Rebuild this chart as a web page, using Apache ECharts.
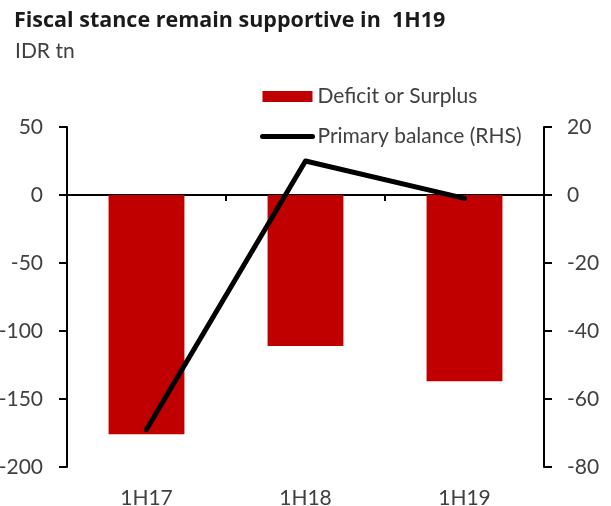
<!DOCTYPE html>
<html><head><meta charset="utf-8">
<script src="https://cdn.jsdelivr.net/npm/echarts@6/dist/echarts.min.js"></script>
<style>html,body{margin:0;padding:0;background:#fff}#c{width:611px;height:506px}</style>
</head><body><div id="c"></div>
<script>
const categories = ['1H17', '1H18', '1H19'];
const deficitSurplus = [-176, -111, -137];
const primaryBalance = [-69, 10, -1];
const leftTickLabels = [-200, -150, -100, -50, 0, 50];
const rightTickLabels = [-80, -60, -40, -20, 0, 20];

const FONT = 'Lato';
const TXT = '#404040';
const chart = echarts.init(document.getElementById('c'), null, {renderer: 'canvas'});
const axisStyle = {color: '#000', width: 2};
chart.setOption({
  animation: false,
  backgroundColor: '#fff',
  title: [
    {text: 'Fiscal stance remain supportive in  1H19', left: 9, top: 5,
     textStyle: {fontFamily: 'Open Sans', fontWeight: 'bold', fontSize: 21.5, color: '#1a1a1a'}},
    {text: 'IDR tn', left: 10, top: 36,
     textStyle: {fontFamily: FONT, fontWeight: 'normal', fontSize: 21, color: TXT}}
  ],
  legend: {
    orient: 'vertical', left: 255, top: 81, itemWidth: 50, itemHeight: 11, itemGap: 19,
    textStyle: {fontFamily: FONT, fontSize: 21, color: TXT},
    data: [
      {name: 'Deficit or Surplus', icon: 'rect'},
      {name: 'Primary balance (RHS)', itemStyle: {opacity: 0}, lineStyle: {width: 5, cap: 'round', color: '#000'}}
    ]
  },
  grid: {left: 67, right: 67, top: 127, bottom: 39, containLabel: false, outerBoundsMode: 'none'},
  xAxis: [
    {type: 'category', data: categories, position: 'bottom',
     axisLine: {show: false, onZero: false}, axisTick: {show: false},
     axisLabel: {fontFamily: FONT, fontSize: 21, color: TXT, margin: 21}},
    {type: 'category', data: categories, position: 'top',
     axisLine: {show: true, onZero: true, onZeroAxisIndex: 0, lineStyle: axisStyle},
     axisTick: {show: true, inside: true, length: 6, lineStyle: axisStyle},
     axisLabel: {show: false}}
  ],
  yAxis: [
    {type: 'value', position: 'left', min: leftTickLabels[0], max: leftTickLabels[leftTickLabels.length - 1], interval: 50,
     axisLine: {show: true, onZero: false, lineStyle: axisStyle},
     axisTick: {show: true, length: 8, lineStyle: axisStyle},
     splitLine: {show: false},
     axisLabel: {fontFamily: FONT, fontSize: 21, color: TXT, margin: 24}},
    {type: 'value', position: 'right', min: rightTickLabels[0], max: rightTickLabels[rightTickLabels.length - 1], interval: 20,
     axisLine: {show: true, onZero: false, lineStyle: axisStyle},
     axisTick: {show: true, length: 8, lineStyle: axisStyle},
     splitLine: {show: false},
     axisLabel: {fontFamily: FONT, fontSize: 21, color: TXT, margin: 23}}
  ],
  series: [
    {name: 'Deficit or Surplus', type: 'bar', xAxisIndex: 0, yAxisIndex: 0, data: deficitSurplus,
     barWidth: '47.7%', itemStyle: {color: '#C00000'}, z: 1},
    {name: 'Primary balance (RHS)', type: 'line', xAxisIndex: 0, yAxisIndex: 1, data: primaryBalance,
     symbol: 'none', lineStyle: {color: '#000', width: 5, cap: 'round', join: 'round'},
     itemStyle: {color: '#000'}, z: 5}
  ]
});
</script></body></html>
